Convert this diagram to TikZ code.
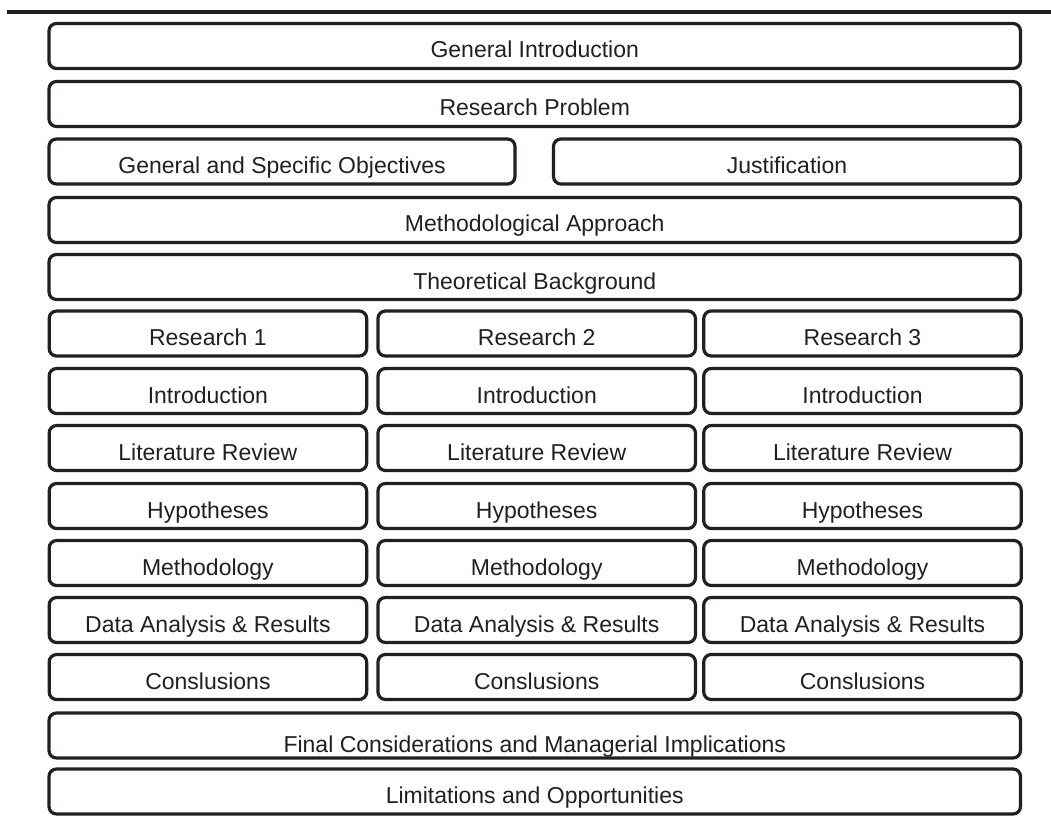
\documentclass[tikz,border=0pt]{standalone}
\usepackage{fontspec}
\setmainfont{Liberation Sans}
\definecolor{ink}{HTML}{231F20}
\begin{document}
\begin{tikzpicture}[x=1pt,y=-1pt,
  box/.style={draw=ink, line width=3.2pt, rounded corners=7.5pt, inner sep=0pt,
    minimum height=45pt, text=ink, text height=24pt, text depth=0pt,
    font=\fontsize{23}{27}\selectfont},
  full/.style={box, minimum width=971.5pt},
  col/.style={box, minimum width=317.5pt}]
\useasboundingbox (0,0) rectangle (1051,818);
\coordinate (tl) at (7,12);
\coordinate (tr) at (1051,12);
\draw[ink, line width=4pt] (tl) -- (tr);
% full-width rows (x centre 534.75)
\node[full] (gi) at (534.75,46) {General Introduction};
\node[full] (rp) at (534.75,104) {Research Problem};
\node[box, minimum width=466pt] (obj) at (282,161.5) {General and Specific Objectives};
\node[box, minimum width=467pt] (jus) at (787,161.5) {Justification};
\node[full] (ma) at (534.75,220) {Methodological Approach};
\node[full] (tb) at (534.75,277) {Theoretical Background};
% three research columns
\foreach \n/\cx in {1/207.9, 2/536.7, 3/862.5}{
  \node[col] (r\n) at (\cx,333.5) {Research \n};
  \node[col] (in\n) at (\cx,391) {Introduction};
  \node[col] (lr\n) at (\cx,448) {Literature Review};
  \node[col] (hy\n) at (\cx,506) {Hypotheses};
  \node[col] (me\n) at (\cx,563) {Methodology};
  \node[col] (da\n) at (\cx,620) {Data Analysis \& Results};
  \node[col] (co\n) at (\cx,677) {Conslusions};
}
\node[full, text height=34pt, xshift=-5pt] (fc) at (539.75,735.5) {Final Considerations and Managerial Implications};
\node[full] (lo) at (534.75,791.5) {Limitations and Opportunities};
\end{tikzpicture}
\end{document}
